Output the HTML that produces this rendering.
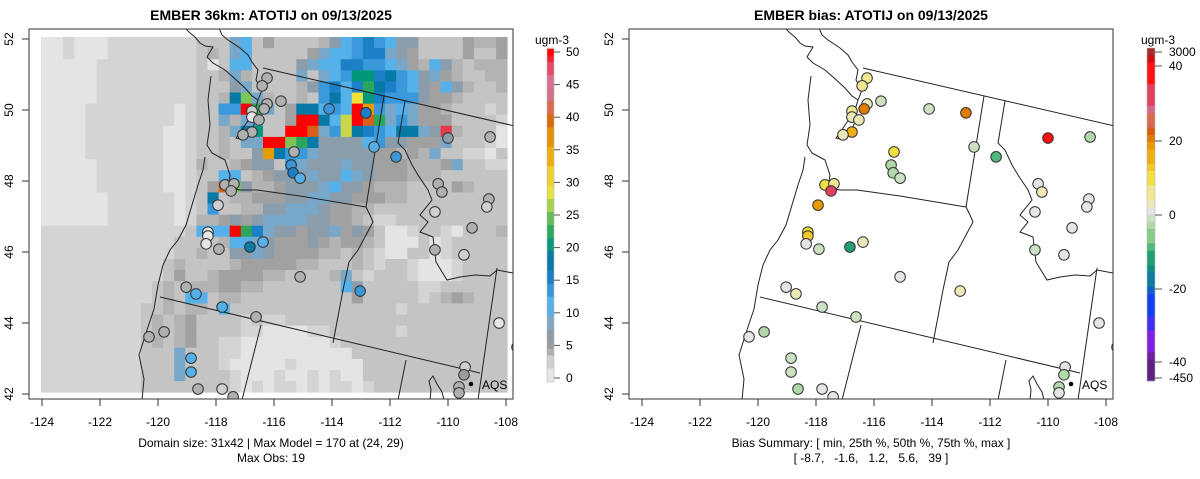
<!DOCTYPE html>
<html><head><meta charset="utf-8"><title>EMBER ATOTIJ</title>
<style>
html,body{margin:0;padding:0;background:#fff;}
svg{display:block;font-family:"Liberation Sans",Arial,sans-serif;}
.pre{white-space:pre;}
</style></head>
<body>
<svg id="chart" width="1200" height="479" viewBox="0 0 1200 479" xmlns="http://www.w3.org/2000/svg">
<defs>
<clipPath id="clipL"><rect x="30" y="29" width="483" height="370"/></clipPath>
<clipPath id="clipR"><rect x="629" y="29" width="484" height="370"/></clipPath>
</defs>
<text x="271" y="20" text-anchor="middle" font-size="14" font-weight="bold">EMBER 36km: ATOTIJ on 09/13/2025</text>
<text x="871" y="20" text-anchor="middle" font-size="14" font-weight="bold">EMBER bias: ATOTIJ on 09/13/2025</text>
<g id="panelL"></g>
<g id="panelR"></g>
<g id="cbL"></g>
<g id="cbR"></g>
<text x="271" y="447" text-anchor="middle" font-size="12">Domain size: 31x42 | Max Model = 170 at (24, 29)</text>
<text x="271" y="462" text-anchor="middle" font-size="12">Max Obs: 19</text>
<text x="871" y="447" text-anchor="middle" font-size="12">Bias Summary: [ min, 25th %, 50th %, 75th %, max ]</text>
<text x="871" y="462" text-anchor="middle" font-size="12" class="pre" xml:space="preserve">[ -8.7,   -1.6,   1.2,   5.6,   39 ]</text>
</svg>
<script>
// ---- data ----
const gridRows = [
"aabaaabbbbbbbb"+"cccghceccccdfhijihffccccedde",
"aabaaabbbbbbbb"+"cdcghccccceghhijjgfeccccecce",
"aaaaabbbbbbbbb"+"cachhccccfghhjjiihgedhfdcddd",
"aaaaabbbbbbbbb"+"ccdgdccccgcghilljkihfgedccdd",
"aaaaabbbbbbbbb"+"cccfgccccdfijhjmkjihfehfdccd",
"aaaaabbbbbbbbb"+"ccdkngdccdcikhpljiiifeedcccc",
"aaaabbbbbbbbab"+"cciitmgcekkhihtqighgeedcccbc",
"aaaabbbbbbbbab"+"ccgdghccettkhotrmgigeeeccccb",
"aaaabbbbbbbaab"+"ccdgklccttrgiokjihkkgfsdccca",
"aaaabbbbbbbaab"+"ccdcggttnmkffffhiffeeegcccba",
"aaaabbbbbbbaab"+"ccdccfqkiigfffffeededgccbba",
"aaaaabbbbbbaab"+"dccdeffcigfffgffeeedddegccbb",
"aaaaabbbbbbaab"+"cchhcdefffgffhgfeeedddcccccc",
"aaaaabbbbbbaab"+"cernfddefffghffedddccccedccc",
"aaaaaabbbbbbab"+"ckcddeeeffggffeeeddccccccccc",
"aaaaaabbbbbbab"+"ciccddffgggfeeddcccccccccccc",
"aaaaaabbbbbbab"+"ddefefggggffeedcbbcccccccccc",
"bbbbbbbbbbbbbc"+"hhhtmjgffeffgefecaabccbacccd",
"bbbbbbbbbbbbcc"+"ccdhhgfeeefedeedcaaacabccccc",
"bbbbbbbbbbbbcc"+"dccffgfeeeeddcdcbaaccabccccc",
"bbbbbbbbbbbcdc"+"cccdeeeeeddcccdcbccbaaabcccc",
"bbbbbbbbbbbcec"+"cdeeeeddccccdgcbcccbaaabcccc",
"bbbbbbbbbbcdcd"+"ddeeddccccccchfcccccbbcccccc",
"bbbbbbbbbbcdch"+"hcddccccccccccecccccbcdedccc",
"bbbbbbbbbccdcd"+"dchcccccccccccccccbccccccccc",
"bbbbbbbbbcdcde"+"ccccbcbbccccccccccccccccccc",
"bbbbbbbbbcdcde"+"ccccbbaaaabbccccccbccccccccc",
"bbbbbbbbbcdcde"+"ccbbaaaaaaaabccccccccccccccc",
"bbbbbbbbbcccgc"+"ccbbaaaaaaaaaacccccccccccccc",
"bbbbbbbbbcccgc"+"ccbaaaaabaaaaaaccccccccccccc",
"bbbbbbbbbcccgc"+"cccbaaabaababaaccccccccccccc",
"bbbbbbbbbccccc"+"cccbababbababbabcccccccccccc"
];
const levelCodes = "abcdefghijklmnopqrst";
const levelColors = ["#e4e4e4","#d4d4d4","#c4c4c4","#b3b3b3","#a1a1a1","#8b9daa","#77a8c9","#54b1e9","#3a99db","#1c80c9","#0779a6","#00977a","#2ca65c","#7cc45a","#c9d64a","#f0e13a","#e69b00","#d86018","#e8384c","#ff0000"];

const siteLon = [-116.24,-116.41,-115.76,-116.24,-116.34,-116.76,-116.76,-116.52,-116.76,-117.07,-114.10,-112.83,-110.00,-108.55,-112.55,-111.79,-115.31,-115.41,-115.34,-115.10,-117.69,-117.38,-117.48,-110.34,-110.21,-108.59,-108.66,-117.93,-110.45,-109.17,-118.28,-118.28,-118.34,-117.90,-116.83,-116.38,-110.45,-109.45,-115.10,-119.03,-118.69,-113.03,-117.79,-116.62,-108.24,-119.79,-120.31,-107.62,-118.86,-118.86,-118.62,-117.79,-117.41,-109.41,-109.45,-109.62,-109.62];
const siteLat = [50.90,50.68,50.25,50.17,50.03,49.97,49.80,49.72,49.38,49.30,50.03,49.92,49.21,49.24,48.96,48.68,48.82,48.45,48.23,48.08,47.89,47.92,47.72,47.92,47.69,47.49,47.27,47.32,47.13,46.68,46.56,46.45,46.23,46.08,46.14,46.28,46.06,45.92,45.30,45.01,44.82,44.90,44.45,44.17,44.00,43.75,43.61,43.32,43.01,42.62,42.14,42.14,41.92,42.76,42.54,42.20,42.03];
const siteObs = [4,4,4,4,4,2,1,4,4,4,13,16,6,4,11,14,4,13,15,11,4,4,4,4,4,4,2,2,2,4,1,1,1,4,17,11,4,2,4,4,11,13,11,4,0,4,4,2,11,11,4,2,4,3,5,4,4];
const siteBias = [5,5,-2,4,20,6,4,3,15,3,-2,20,39,-3,-1,-10,10,-3,-4,-2,9,5,30,0,2,0,0,18,0,0,10,12,0,-2,-12,4,-2,0,0,0,3,4,-2,-1,0,-3,0,0,-2,-2,-3,0,0,0,-4,-3,0];

const obsTicks = [0,5,10,15,20,25,30,35,40,45,50];
const biasTicks = [3000,40,20,0,-20,-40,-450];
const lonTicks = [-124,-122,-120,-118,-116,-114,-112,-110,-108];
const latTicks = [52,50,48,46,44,42];

// ---- scales ----
const NS="http://www.w3.org/2000/svg";
function xL(lon){return 42+(lon+124)*29;}
function yL(lat){return 39+(52-lat)*35.5;}
const GX0=41,GY0=37,CW=11.1,CH=11.1;
function mk(tag,attrs,parent){const e=document.createElementNS(NS,tag);for(const k in attrs)e.setAttribute(k,attrs[k]);parent.appendChild(e);return e;}

const obsStops=[[0,"#e5e5e5"],[2,"#cfcfcf"],[4,"#b0b0b0"],[5,"#9c9c9c"],[6,"#8c9ba6"],[8,"#7fa7c4"],[10,"#56b0e8"],[13,"#3a96d6"],[15,"#1a7fc8"],[17,"#0a7aa6"],[20,"#079a7a"],[22,"#2eaa5e"],[24,"#62bc58"],[26,"#a8d050"],[28,"#e6e040"],[30,"#f0d030"],[33,"#ebb010"],[36,"#e49000"],[39,"#d86a10"],[41,"#d86a50"],[43,"#d0708a"],[45,"#d87090"],[47,"#e84a6a"],[49,"#f02030"],[50,"#ff0000"]];
const biasStops=[[-450,"#602080"],[-42,"#7020a0"],[-37,"#8020e0"],[-32,"#4030f0"],[-27,"#1040f0"],[-22,"#1060c8"],[-19,"#107aa0"],[-16,"#108c80"],[-13,"#20a070"],[-10,"#50b878"],[-7,"#88cc88"],[-4,"#b0d8a8"],[-2,"#cce0c4"],[0,"#e5e5e5"],[2,"#ece8b8"],[5,"#f0e890"],[8,"#f2e040"],[11,"#f0c830"],[14,"#ecb010"],[17,"#e69a00"],[20,"#e07a00"],[22,"#d85a10"],[24,"#d86a50"],[27,"#d06a8a"],[30,"#e04060"],[35,"#ff1010"],[40,"#cc1010"],[3000,"#a52a2a"]];
function stepColor(stops,v){let c=stops[0][1];for(const s of stops){if(v>=s[0])c=s[1];}return c;}

function basemap(g,dx){
  const paths=[
   "M263,68 L519,127",
   "M384,96 L366,207",
   "M366,207 L370,215 L373,222 L366,235 L358,250 L349,262 L343,290 L333,343",
   "M405,101 L398,143 L405,150 L412,165 L418,175 L428,190 L432,200 L420,215 L428,222 L420,232 L433,237 L436,262 L447,280 L460,277 L475,275 L490,276 L497,270 L513,273 L520,273",
   "M497,268 L478,400",
   "M230,188 L240,190 L257,190 L300,196 L366,207",
   "M160,297 L480,373",
   "M261,325 L242,400",
   "M406,360 L398,400",
   "M430,400 L431,390 L429,381 L433,376 L437,384 L442,392 L444,400",
   "M185,28 L190,33 L195,37 L200,43 L205,46 L213,47 L210,52 L207,57",
   "M207,57 L213,63 L225,70 L233,77 L245,88 L252,96 L258,100",
   "M219,28 L222,35 L228,40 L240,48 L248,55 L252,62 L258,70 L256,80 L262,90 L258,100 L255,110 L250,118 L245,125 L240,133 L236,138 L243,140 L250,133 L256,120",
   "M211,76 L208,100 L210,125 L207,145 L212,153 L225,160 L230,175 L228,187",
   "M205,157 L203,170 L198,185 L192,205 L186,225 L178,240 L170,250 L163,265 L158,285 L154,309 L147,330 L139,355 L144,379 L142,400"
  ];
  const bg=mk("g",{transform:"translate("+dx+",0)",fill:"none",stroke:"#222","stroke-width":"1"},g);
  
  
  for(const d of paths){mk("path",{d:d},bg);}
}

function axes(g,dx){
  const box=mk("rect",{x:29+dx,y:29,width:484,height:370,fill:"none",stroke:"#333","stroke-width":"1"},g);
  
  
  for(const t of lonTicks){
    const x=xL(t)+dx;
    mk("line",{x1:x,y1:399,x2:x,y2:406,stroke:"#333"},g);
    const tx=mk("text",{x:x,y:426,"text-anchor":"middle","font-size":"12"},g);
    tx.textContent=t;
    
    
  }
  for(const t of latTicks){
    const y=yL(t);
    mk("line",{x1:29+dx,y1:y,x2:22+dx,y2:y,stroke:"#333"},g);
    const tx=mk("text",{x:13+dx,y:y,"text-anchor":"middle","font-size":"12",transform:"rotate(-90 "+(13+dx)+" "+y+")"},g);
    tx.textContent=t;
    
    
  }
}

function sites(g,dx,vals,stops){
  for(let i=0;i<siteLon.length;i++){
    const c=mk("circle",{cx:xL(siteLon[i])+dx,cy:yL(siteLat[i]),r:5.3,fill:stepColor(stops,vals[i]),stroke:"#333","stroke-width":"1"},g);
    
    
  }
  const d=mk("circle",{cx:471+dx,cy:384,r:2.3,fill:"#000"},g);
  
  
  const t=mk("text",{x:482+dx,y:389,"font-size":"12"},g);
  t.textContent="AQS";
  
  
}

// left panel
const pL=document.getElementById("panelL");
const gridG=mk("g",{"clip-path":"url(#clipL)"},pL);


for(let r=0;r<32;r++){
  const row=(gridRows[r]||"").replace(/ /g,"c");
  for(let c=0;c<42;c++){
    const ch=row[c]||"c";
    const idx=Math.max(0,levelCodes.indexOf(ch));
    const cell=mk("rect",{x:(GX0+c*CW).toFixed(2),y:(GY0+r*CH).toFixed(2),width:CW+0.4,height:CH+0.4,fill:levelColors[idx]},gridG);
    
    
  }
}
const clL=mk("g",{"clip-path":"url(#clipL)"},pL);
basemap(clL,0);
sites(clL,0,siteObs,obsStops);
axes(pL,0);

// right panel
const pR=document.getElementById("panelR");
const clR=mk("g",{"clip-path":"url(#clipR)"},pR);
basemap(clR,600);
sites(clR,600,siteBias,biasStops);
axes(pR,600);

// left colorbar
const cbL=document.getElementById("cbL");
function yObs(v){return 378-(v)*6.52;}
for(let v=0;v<=50;v++){
  const y0=yObs(v+0.5),y1=yObs(v-0.5);
  const s=mk("rect",{x:547,y:Math.max(48,y0),width:7,height:Math.min(382,y1)-Math.max(48,y0)+0.3,fill:stepColor(obsStops,v)},cbL);
  
  
}
mk("rect",{x:547,y:48,width:7,height:334,fill:"none",stroke:"#bbb","stroke-width":"0.6"},cbL);
for(const t of obsTicks){
  const y=yObs(t);
  mk("line",{x1:554,y1:y,x2:560,y2:y,stroke:"#555"},cbL);
  const tx=mk("text",{x:566,y:y+4,"font-size":"12"},cbL);
  tx.textContent=t;
  
  
}
const tL=mk("text",{x:552,y:44,"text-anchor":"middle","font-size":"12"},cbL);
tL.textContent="ugm-3";



// right colorbar
const cbR=document.getElementById("cbR");
const bPos=[[3000,52],[40,66],[20,141],[0,215],[-20,289],[-40,362],[-450,378]];
function yBias(v){
  for(let i=0;i<bPos.length-1;i++){const a=bPos[i],b=bPos[i+1];if(v<=a[0]&&v>=b[0])return a[1]+(v-a[0])/(b[0]-a[0])*(b[1]-a[1]);}
  return v>0?52:378;
}
function vBias(y){
  for(let i=0;i<bPos.length-1;i++){const a=bPos[i],b=bPos[i+1];if(y>=a[1]&&y<=b[1])return a[0]+(y-a[1])/(b[1]-a[1])*(b[0]-a[0]);}
  return y<52?3000:-450;
}
const nSeg=46,segH=(381-48)/nSeg;
for(let i=0;i<nSeg;i++){
  const y=48+i*segH;
  const s=mk("rect",{x:1147,y:y.toFixed(2),width:8,height:segH+0.3,fill:stepColor(biasStops,vBias(y+segH/2))},cbR);
  
  
}
mk("rect",{x:1147,y:48,width:8,height:333,fill:"none",stroke:"#bbb","stroke-width":"0.6"},cbR);
for(const t of biasTicks){
  const y=yBias(t);
  mk("line",{x1:1155,y1:y,x2:1162,y2:y,stroke:"#555"},cbR);
  const tx=mk("text",{x:1169,y:y+4,"font-size":"12"},cbR);
  tx.textContent=t;
  
  
}
const tR=mk("text",{x:1158,y:44,"text-anchor":"middle","font-size":"12"},cbR);
tR.textContent="ugm-3";


</script>
</body></html>
